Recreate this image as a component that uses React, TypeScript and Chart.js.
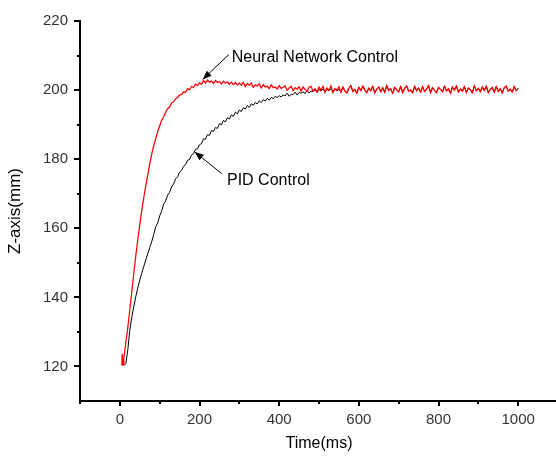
import React, { useEffect, useRef } from "react";
import { Chart, registerables } from "chart.js";

Chart.register(...registerables);

// ---------------- data ----------------
const timeMs = [
  10, 15, 20, 25, 30, 35, 40, 45, 50, 55,
  60, 65, 70, 75, 80, 85, 90, 95, 100, 105,
  110, 115, 120, 125, 130, 135, 140, 145, 150, 155,
  160, 165, 170, 175, 180, 185, 190, 195, 200, 205,
  210, 215, 220, 225, 230, 235, 240, 245, 250, 255,
  260, 265, 270, 275, 280, 285, 290, 295, 300, 305,
  310, 315, 320, 325, 330, 335, 340, 345, 350, 355,
  360, 365, 370, 375, 380, 385, 390, 395, 400, 405,
  410, 415, 420, 425, 430, 435, 440, 445, 450, 455,
  460, 465, 470, 475, 480, 485, 490, 495, 500, 505,
  510, 515, 520, 525, 530, 535, 540, 545, 550, 555,
  560, 565, 570, 575, 580, 585, 590, 595, 600, 605,
  610, 615, 620, 625, 630, 635, 640, 645, 650, 655,
  660, 665, 670, 675, 680, 685, 690, 695, 700, 705,
  710, 715, 720, 725, 730, 735, 740, 745, 750, 755,
  760, 765, 770, 775, 780, 785, 790, 795, 800, 805,
  810, 815, 820, 825, 830, 835, 840, 845, 850, 855,
  860, 865, 870, 875, 880, 885, 890, 895, 900, 905,
  910, 915, 920, 925, 930, 935, 940, 945, 950, 955,
  960, 965, 970, 975, 980, 985, 990, 995, 1000,
];

const nnStartTime = [5, 6, 8];
const nnStartZ = [120.2, 123.7, 120.5];

const nnZ = [
  122.3, 126.8, 131.2, 136.4, 141.6, 146.9, 152.0, 156.6, 161.0, 165.1,
  168.8, 172.3, 175.3, 178.6, 181.4, 183.9, 185.9, 188.0, 189.6, 191.3,
  192.3, 193.6, 194.6, 195.1, 196.3, 196.6, 197.5, 197.8, 198.6, 198.7,
  199.5, 199.3, 200.4, 200.1, 201.1, 200.7, 201.8, 201.3, 202.1, 201.7,
  202.8, 202.0, 202.9, 202.3, 202.6, 201.9, 202.8, 202.2, 202.5, 201.8,
  202.6, 202.0, 202.4, 201.7, 202.3, 201.6, 202.2, 201.5, 202.0, 201.4,
  202.2, 201.0, 201.9, 201.4, 202.0, 200.8, 201.5, 201.2, 201.8, 200.6,
  201.6, 200.9, 201.1, 200.4, 201.5, 200.7, 200.9, 200.3, 201.3, 200.5,
  200.8, 201.2, 199.9, 200.6, 201.1, 199.8, 200.7, 200.3, 201.0, 199.7,
  200.9, 200.2, 199.6, 200.8, 201.1, 199.7, 200.4, 199.5, 200.9, 200.0,
  201.1, 199.3, 200.6, 199.9, 201.2, 199.2, 200.4, 200.0, 201.0, 199.4,
  200.9, 199.7, 199.2, 200.5, 201.3, 199.6, 200.2, 199.1, 200.8, 199.9,
  201.2, 200.0, 199.3, 200.6, 199.8, 201.1, 199.2, 200.3, 200.9, 199.5,
  200.7, 199.4, 201.3, 199.9, 200.4, 199.1, 200.8, 200.1, 199.5, 201.0,
  199.3, 200.5, 201.2, 199.7, 200.0, 199.2, 201.1, 199.8, 200.6, 199.4,
  201.0, 199.6, 200.3, 201.3, 199.3, 200.7, 199.9, 199.2, 200.8, 200.2,
  199.5, 201.1, 199.8, 200.4, 199.1, 200.9, 200.0, 201.2, 199.4, 200.3,
  199.7, 201.0, 199.3, 200.6, 200.1, 199.2, 201.2, 199.8, 200.5, 199.5,
  200.9, 199.9, 201.1, 199.3, 200.2, 200.8, 199.4, 201.0, 199.6, 200.4,
  199.2, 200.7, 201.2, 199.7, 200.3, 199.4, 201.0, 199.9, 200.5,
];

const pidZ = [
  120.2, 120.8, 124.8, 130.5, 134.2, 137.3, 140.2, 142.7, 145.0, 147.0,
  148.9, 150.8, 152.6, 154.4, 156.1, 158.2, 160.4, 161.5, 163.6, 165.0,
  167.0, 167.9, 169.6, 170.4, 172.0, 172.8, 174.3, 174.9, 176.3, 176.7,
  177.9, 178.4, 179.7, 179.9, 181.2, 181.6, 182.9, 183.0, 184.2, 184.5,
  185.9, 185.8, 187.1, 186.9, 188.3, 188.0, 189.2, 188.9, 190.3, 189.9,
  191.2, 190.8, 192.0, 191.6, 192.8, 192.4, 193.6, 193.1, 194.2, 193.8,
  194.9, 194.5, 195.5, 195.0, 196.0, 195.6, 196.4, 196.0, 196.9, 196.4,
  197.2, 196.8, 197.6, 197.1, 197.9, 197.5, 198.2, 197.8, 198.4, 198.0,
  198.6, 198.3, 199.1, 198.2, 198.8, 198.7, 199.4, 198.6, 199.3, 199.1,
  199.5, 199.0, 199.9, 199.2, 199.7, 199.6, 200.1, 199.3, 200.2, 199.7,
  200.3, 199.6, 200.2, 199.8, 200.4, 199.5, 200.3, 199.8, 200.2, 199.4,
  200.9, 199.7, 199.2, 200.5, 201.3, 199.6, 200.2, 199.1, 200.8, 199.9,
  201.2, 200.0, 199.3, 200.6, 199.8, 201.1, 199.2, 200.3, 200.9, 199.5,
  200.7, 199.4, 201.3, 199.9, 200.4, 199.1, 200.8, 200.1, 199.5, 201.0,
  199.3, 200.5, 201.2, 199.7, 200.0, 199.2, 201.1, 199.8, 200.6, 199.4,
  201.0, 199.6, 200.3, 201.3, 199.3, 200.7, 199.9, 199.2, 200.8, 200.2,
  199.5, 201.1, 199.8, 200.4, 199.1, 200.9, 200.0, 201.2, 199.4, 200.3,
  199.7, 201.0, 199.3, 200.6, 200.1, 199.2, 201.2, 199.8, 200.5, 199.5,
  200.9, 199.9, 201.1, 199.3, 200.2, 200.8, 199.4, 201.0, 199.6, 200.4,
  199.2, 200.7, 201.2, 199.7, 200.3, 199.4, 201.0, 199.9, 200.5,
];

const xLabelTicks = [0, 200, 400, 600, 800, 1000];
const xMinorTicks = [-100, 100, 300, 500, 700, 900, 1100];
const yLabelTicks = [120, 140, 160, 180, 200, 220];
const yMinorTicks = [130, 150, 170, 190, 210];

const xTitle = "Time(ms)";
const yTitle = "Z-axis(mm)";
const nnName = "Neural Network Control";
const pidName = "PID Control";

// annotation anchors (data units)
const nnTextAt = { x: 281, y: 209.4 };
const nnArrowFrom = { x: 274, y: 210.3 };
const nnArrowTo = { x: 208, y: 203.1 };
const pidTextAt = { x: 269, y: 173.8 };
const pidArrowFrom = { x: 256, y: 175.8 };
const pidArrowTo = { x: 188, y: 182.1 };

// ---------------- styling ----------------
const SANS = "'Liberation Sans', Arial, Helvetica, sans-serif";
const NARROW = "'Liberation Sans Narrow', 'Arial Narrow', 'Liberation Sans', Arial, sans-serif";

function drawArrow(ctx: CanvasRenderingContext2D, x1: number, y1: number, x2: number, y2: number) {
  ctx.beginPath();
  ctx.moveTo(x1, y1);
  ctx.lineTo(x2, y2);
  ctx.lineWidth = 1;
  ctx.strokeStyle = "#000";
  ctx.stroke();
  const ang = Math.atan2(y2 - y1, x2 - x1);
  const len = 9;
  const hw = 3.5;
  const bx = x2 - len * Math.cos(ang);
  const by = y2 - len * Math.sin(ang);
  ctx.beginPath();
  ctx.moveTo(x2, y2);
  ctx.lineTo(bx + hw * Math.sin(ang), by - hw * Math.cos(ang));
  ctx.lineTo(bx - hw * Math.sin(ang), by + hw * Math.cos(ang));
  ctx.closePath();
  ctx.fillStyle = "#000";
  ctx.fill();
}

const decorPlugin = {
  id: "decor",
  afterDraw(chart: any) {
    const { ctx, chartArea, scales } = chart;
    const xs = scales.x;
    const ys = scales.y;
    ctx.save();
    ctx.strokeStyle = "#000";
    const xTick = (v: number, len: number, w: number) => {
      const px = Math.round(xs.getPixelForValue(v));
      ctx.lineWidth = w;
      ctx.beginPath();
      ctx.moveTo(px, chartArea.bottom);
      ctx.lineTo(px, chartArea.bottom + len);
      ctx.stroke();
    };
    const yTick = (v: number, len: number, w: number) => {
      const py = Math.round(ys.getPixelForValue(v));
      ctx.lineWidth = w;
      ctx.beginPath();
      ctx.moveTo(chartArea.left, py);
      ctx.lineTo(chartArea.left - len, py);
      ctx.stroke();
    };
    xLabelTicks.forEach((v) => xTick(v, 5, 2));
    xMinorTicks.forEach((v) => xTick(v, 3, 2));
    yLabelTicks.forEach((v) => yTick(v, 6, 2));
    yMinorTicks.forEach((v) => yTick(v, 3, 2));

    // annotations
    drawArrow(
      ctx,
      xs.getPixelForValue(nnArrowFrom.x), ys.getPixelForValue(nnArrowFrom.y),
      xs.getPixelForValue(nnArrowTo.x), ys.getPixelForValue(nnArrowTo.y)
    );
    drawArrow(
      ctx,
      xs.getPixelForValue(pidArrowFrom.x), ys.getPixelForValue(pidArrowFrom.y),
      xs.getPixelForValue(pidArrowTo.x), ys.getPixelForValue(pidArrowTo.y)
    );
    ctx.fillStyle = "#000";
    ctx.font = `16px ${SANS}`;
    ctx.textAlign = "left";
    ctx.textBaseline = "middle";
    ctx.fillText(nnName, xs.getPixelForValue(nnTextAt.x), ys.getPixelForValue(nnTextAt.y));
    ctx.fillText(pidName, xs.getPixelForValue(pidTextAt.x), ys.getPixelForValue(pidTextAt.y));
    ctx.restore();
  },
};

export default function App() {
  const canvasRef = useRef<HTMLCanvasElement | null>(null);

  useEffect(() => {
    const canvas = canvasRef.current;
    if (!canvas) return;

    const nnPoints = nnStartTime
      .map((t, i) => ({ x: t, y: nnStartZ[i] }))
      .concat(timeMs.map((t, i) => ({ x: t, y: nnZ[i] })));
    const pidPoints = timeMs.map((t, i) => ({ x: t, y: pidZ[i] }));

    const chart = new Chart(canvas, {
      type: "line",
      data: {
        datasets: [
          {
            label: nnName,
            data: nnPoints,
            borderColor: "#ff0000",
            borderWidth: 1.25,
            pointRadius: 0,
            tension: 0,
            fill: false,
          },
          {
            label: pidName,
            data: pidPoints,
            borderColor: "#000000",
            borderWidth: 1,
            pointRadius: 0,
            tension: 0,
            fill: false,
          },
        ],
      },
      options: {
        responsive: false,
        animation: false,
        devicePixelRatio: 1,
        layout: { padding: { top: 18, right: 2, bottom: 0, left: 0 } },
        plugins: {
          legend: { display: false },
          tooltip: { enabled: false },
        },
        scales: {
          x: {
            type: "linear",
            min: -100,
            max: 1100,
            afterBuildTicks: (s: any) => {
              s.ticks = xLabelTicks.map((v) => ({ value: v }));
            },
            afterFit: (s: any) => {
              s.height = 56;
            },
            grid: { display: false, drawTicks: false },
            border: { display: true, color: "#000", width: 2 },
            ticks: {
              padding: 10,
              color: "#333",
              autoSkip: false,
              maxRotation: 0,
              font: { family: NARROW, size: 15 },
              callback: (v: any) => String(v),
            },
            title: {
              display: true,
              text: xTitle,
              color: "#000",
              font: { family: SANS, size: 16 },
              padding: { top: 0, bottom: 4 },
            },
          },
          y: {
            type: "linear",
            min: 110,
            max: 220,
            afterBuildTicks: (s: any) => {
              s.ticks = yLabelTicks.map((v) => ({ value: v }));
            },
            afterFit: (s: any) => {
              s.width = 80;
            },
            grid: { display: false, drawTicks: false },
            border: { display: true, color: "#000", width: 2 },
            ticks: {
              padding: 12,
              color: "#333",
              autoSkip: false,
              font: { family: NARROW, size: 15 },
              callback: (v: any) => String(v),
            },
            title: {
              display: true,
              text: yTitle,
              color: "#000",
              font: { family: SANS, size: 17 },
              padding: { top: 5, bottom: 0 },
            },
          },
        },
      },
      plugins: [decorPlugin],
    });

    return () => {
      chart.destroy();
    };
  }, []);

  return (
    <div
      style={{
        position: "fixed",
        left: 0,
        top: 0,
        width: 556,
        height: 457,
        overflow: "hidden",
        background: "#fff",
      }}
    >
      <canvas ref={canvasRef} width={560} height={457} style={{ width: 560, height: 457, display: "block" }} />
    </div>
  );
}
